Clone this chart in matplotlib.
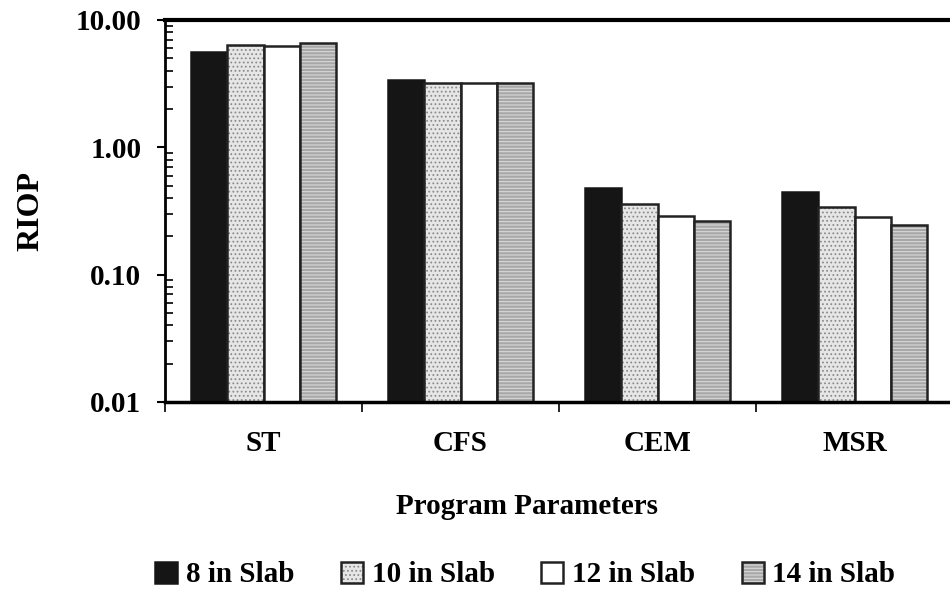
import matplotlib
matplotlib.use("Agg")
import matplotlib.pyplot as plt
import numpy as np

categories = ["ST", "CFS", "CEM", "MSR"]
series_names = ["8 in Slab", "10 in Slab", "12 in Slab", "14 in Slab"]
slab8 = [5.6, 3.35, 0.47, 0.435]
slab10 = [6.3, 3.2, 0.35, 0.33]
slab12 = [6.2, 3.2, 0.277, 0.272]
slab14 = [6.6, 3.2, 0.253, 0.235]
yticks = [0.01, 0.1, 1.0, 10.0]
ytick_labels = ["0.01", "0.10", "1.00", "10.00"]

plt.rcParams['font.family'] = ['Liberation Serif', 'DejaVu Serif']
plt.rcParams['font.weight'] = 'bold'
plt.rcParams['hatch.linewidth'] = 0.8

FS = 21

fig = plt.figure(figsize=(9.5, 5.94), dpi=100)
ax = fig.add_axes([165/950, 1 - 402/594, (953-165)/950, (402-20)/594])

styles = [
    dict(facecolor='#151515', edgecolor='#151515', hatch=None),
    dict(facecolor='#e6e6e6', edgecolor='#222222', hatch='....'),
    dict(facecolor='white', edgecolor='#222222', hatch=None),
    dict(facecolor='#a8a8a8', edgecolor='#222222', hatch='-----'),
]
data = [slab8, slab10, slab12, slab14]
x = np.arange(len(categories))
w = 0.183
for i, (vals, st) in enumerate(zip(data, styles)):
    pos = x + (i - 1.5) * w
    bars = ax.bar(pos, vals, width=w, bottom=0.01, facecolor=st['facecolor'],
                  edgecolor=st['edgecolor'], linewidth=1.8, label=series_names[i],
                  hatch=st['hatch'])
    if st['hatch']:
        for b in bars:
            b._hatch_color = (0.55, 0.55, 0.55, 1.0) if i == 1 else (0.85, 0.85, 0.85, 1.0)

ax.set_yscale('log')
ax.set_ylim(0.01, 10)
ax.set_xlim(-0.5, 3.5)
ax.set_yticks(yticks)
ax.set_yticklabels(ytick_labels)
ax.tick_params(axis='y', which='major', direction='out', length=6, width=1.5,
               labelsize=FS, pad=11)
ax.tick_params(axis='y', which='minor', direction='in', length=6, width=1.2)

ax.set_xticks(x)
ax.set_xticklabels(categories)
ax.tick_params(axis='x', which='major', length=0, labelsize=FS, pad=20)
ax.set_xticks(np.arange(-0.5, 3.6, 1.0), minor=True)
ax.tick_params(axis='x', which='minor', direction='out', length=7, width=1.2)

ax.spines['top'].set_linewidth(3)
ax.spines['left'].set_linewidth(2)
ax.spines['bottom'].set_linewidth(2.5)
ax.spines['right'].set_visible(False)

ax.set_ylabel("RIOP", fontsize=23, fontweight='bold', labelpad=22)
ax.set_xlabel("Program Parameters", fontsize=FS, fontweight='bold')
ax.xaxis.set_label_coords(0.459, (402 - 507) / (402 - 20), transform=ax.transAxes)
ax.xaxis.label.set_verticalalignment('center')

fig.legend(loc='center', bbox_to_anchor=(0.553, 1 - 575/594), ncol=4, frameon=False,
           handlelength=0.75, handleheight=0.75, columnspacing=1.6,
           handletextpad=0.3, prop={'weight': 'bold', 'size': FS})

fig.savefig("out.png", dpi=100)
